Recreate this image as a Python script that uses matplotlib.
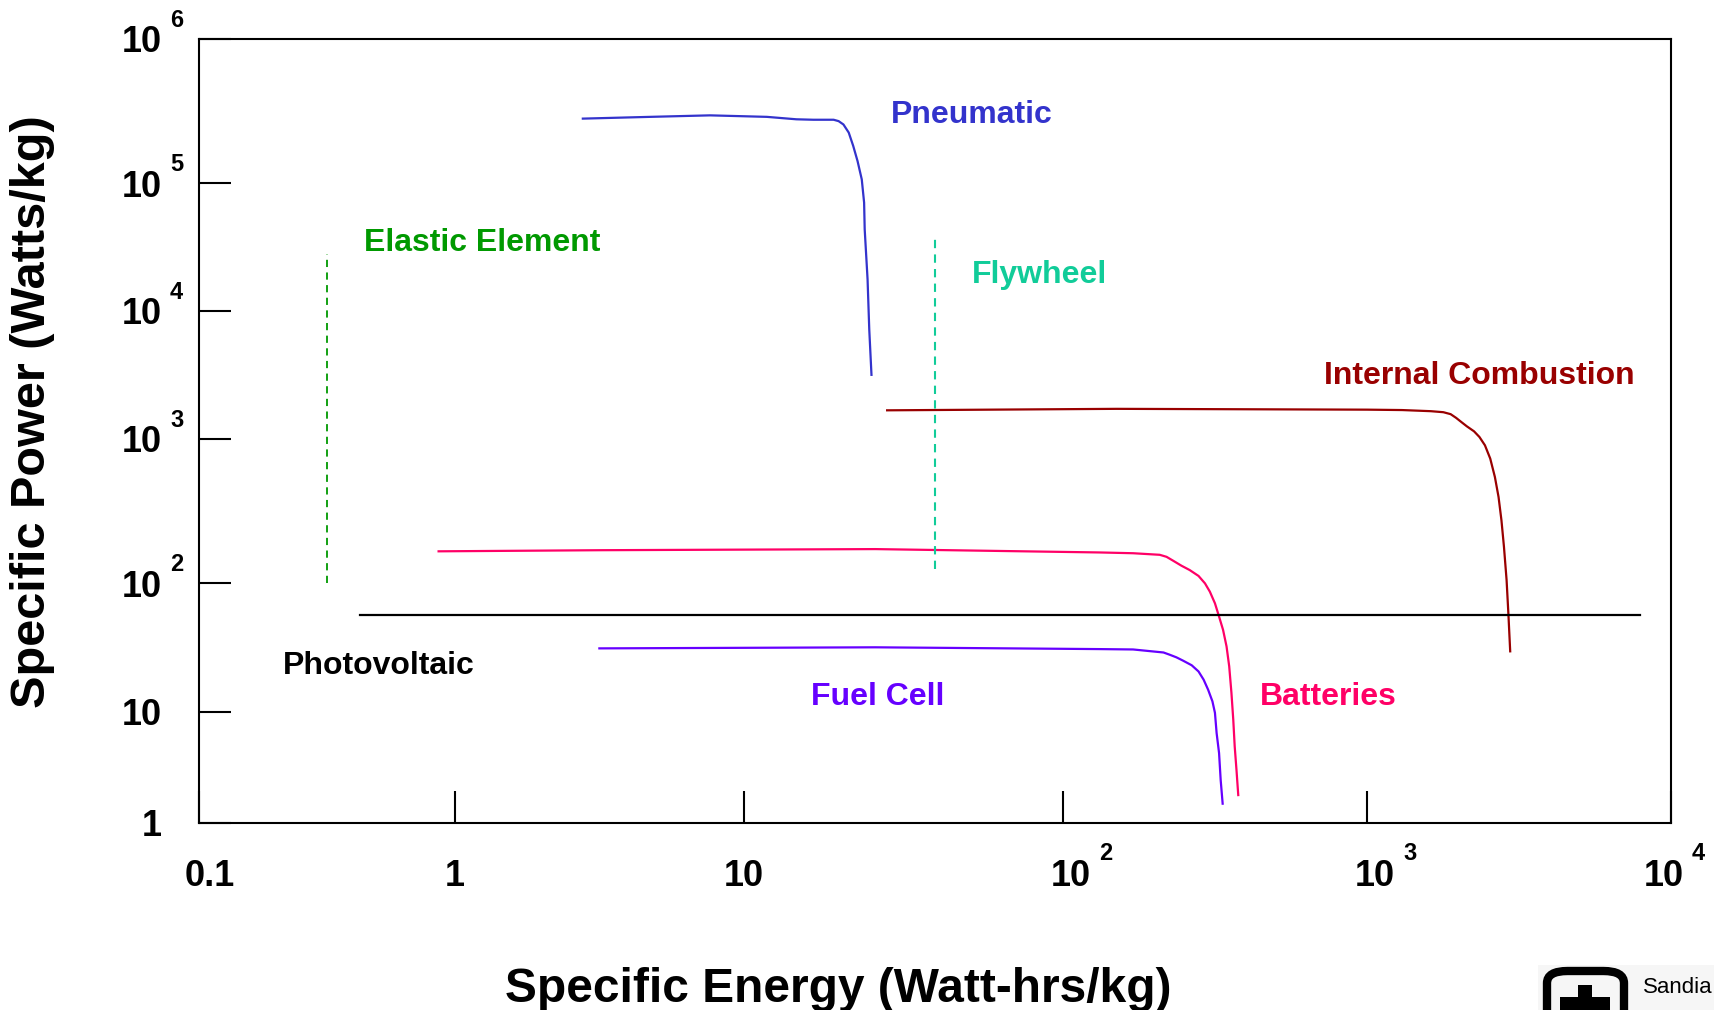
import numpy as np
import matplotlib
matplotlib.use('Agg')
import matplotlib.pyplot as plt
from matplotlib.ticker import NullLocator
from matplotlib.patches import FancyBboxPatch, Rectangle

plt.rcParams['font.family'] = ['Liberation Sans', 'DejaVu Sans']

# ---- data (Specific Energy in Wh/kg, Specific Power in W/kg) ----
pneumatic_energy = [2.77, 4.74, 7.63, 11.8, 14.6, 16.5, 19.1, 19.8, 20.5, 21.3, 22.0,
                    22.7, 23.4, 23.8, 23.9, 24.4, 24.7, 25.1]
pneumatic_power = [2.80e5, 2.88e5, 2.95e5, 2.88e5, 2.77e5, 2.75e5, 2.75e5, 2.69e5, 2.55e5,
                   2.24e5, 1.81e5, 1.42e5, 1.06e5, 7.03e4, 4.35e4, 1.77e4, 7.18e3, 3.17e3]

combustion_energy = [28.1, 150, 1000, 1303, 1622, 1783, 1884, 1963, 2046, 2130, 2249, 2343,
                     2443, 2543, 2634, 2708, 2768, 2821, 2878, 2917, 2958]
combustion_power = [1675, 1720, 1695, 1683, 1649, 1619, 1563, 1463, 1353, 1256, 1148, 1037,
                    904, 731, 545, 396, 273, 179, 105, 58.2, 29.4]

battery_energy = [0.863, 3.22, 25.8, 132, 170, 208, 219, 230, 245, 261, 279, 293, 304, 316,
                  326, 336, 345, 352, 358, 363, 367, 372, 377]
battery_power = [166, 169, 172, 163, 161, 157, 152, 143, 132, 123, 112, 99.4, 85.7, 69.5,
                 54.8, 43.2, 32.1, 22.5, 14.0, 8.47, 4.86, 2.99, 1.78]

fuelcell_energy = [3.16, 25.8, 132, 170, 214, 224, 236, 248, 265, 279, 290, 300, 310, 316,
                   320, 326, 330, 335]
fuelcell_power = [31.0, 31.6, 30.6, 30.4, 28.8, 27.7, 26.4, 24.9, 22.9, 20.5, 17.7, 14.8,
                  12.0, 9.73, 6.41, 4.24, 2.43, 1.49]

photovoltaic_energy = [0.425, 7925]
photovoltaic_power = [56.8, 56.8]

elastic_energy = [0.316, 0.316]
elastic_power = [100, 2.8e4]

flywheel_energy = [39.7, 39.7]
flywheel_power = [125, 3.74e4]

# the original axes are "log-like" but decades are not evenly spaced
x_decades = [-1, 0, 1, 2, 3, 4]
x_decade_pos = [0, 0.1739, 0.3702, 0.5870, 0.7935, 1.0]
y_decades = [0, 1, 2, 3, 4, 5, 6]
y_decade_pos = [0, 0.1422, 0.3061, 0.4898, 0.6531, 0.8163, 1.0]

x_ticks = [0.1, 1, 10, 100, 1000, 10000]
x_tick_base = ['0.1', '1', '10', '10', '10', '10']
x_tick_exp = ['', '', '', '2', '3', '4']
x_tick_shift = [11, 0, 0, 8, 8, -7]   # pixels

y_ticks = [1, 10, 100, 1000, 1e4, 1e5, 1e6]
y_tick_base = ['1', '10', '10', '10', '10', '10', '10']
y_tick_exp = ['', '', '2', '3', '4', '5', '6']


def piecewise(t, xs, ys):
    t = np.asarray(t, dtype=float)
    out = np.interp(t, xs, ys)
    lo_slope = (ys[1] - ys[0]) / (xs[1] - xs[0])
    hi_slope = (ys[-1] - ys[-2]) / (xs[-1] - xs[-2])
    out = np.where(t < xs[0], ys[0] + (t - xs[0]) * lo_slope, out)
    out = np.where(t > xs[-1], ys[-1] + (t - xs[-1]) * hi_slope, out)
    return out


def make_funcs(decades, pos):
    def fwd(v):
        v = np.clip(np.asarray(v, dtype=float), 1e-30, None)
        return piecewise(np.log10(v), decades, pos)

    def inv(f):
        return 10 ** piecewise(f, pos, decades)
    return fwd, inv


W, H = 1715, 1010
fig = plt.figure(figsize=(W / 100, H / 100), dpi=100)
ax = fig.add_axes([199 / W, 1 - 823 / H, 1472 / W, 784 / H])

ax.set_xscale('function', functions=make_funcs(x_decades, x_decade_pos))
ax.set_yscale('function', functions=make_funcs(y_decades, y_decade_pos))
ax.set_xlim(0.1, 1e4)
ax.set_ylim(1, 1e6)

lw = 1.6
ax.plot(pneumatic_energy, pneumatic_power, color='#3333cc', lw=lw)
ax.plot(combustion_energy, combustion_power, color='#990000', lw=lw)
ax.plot(battery_energy, battery_power, color='#ff0066', lw=lw)
ax.plot(fuelcell_energy, fuelcell_power, color='#6600ff', lw=lw)
ax.plot(photovoltaic_energy, photovoltaic_power, color='black', lw=lw)
ax.plot(elastic_energy, elastic_power, color='#009900', lw=1.3, dashes=(4, 3))
ax.plot(flywheel_energy, flywheel_power, color='#11cc99', lw=1.5, dashes=(4, 3))

# series names
lab = dict(fontsize=23, fontweight='bold', ha='left', va='center_baseline', transform=ax.transAxes)
ax.text(0.470, 0.908, 'Pneumatic', color='#3333cc', **lab)
ax.text(0.112, 0.744, 'Elastic Element', color='#009900', **lab)
ax.text(0.525, 0.703, 'Flywheel', color='#11cc99', **lab)
ax.text(0.764, 0.574, 'Internal Combustion', color='#990000', **lab)
ax.text(0.057, 0.205, 'Photovoltaic', color='black', **lab)
ax.text(0.416, 0.165, 'Fuel Cell', color='#6600ff', **lab)
ax.text(0.721, 0.165, 'Batteries', color='#ff0066', **lab)

# axes frame and ticks
for s in ax.spines.values():
    s.set_linewidth(1.5)
ax.xaxis.set_minor_locator(NullLocator())
ax.yaxis.set_minor_locator(NullLocator())
ax.set_xticks(x_ticks)
ax.set_yticks(y_ticks)
ax.tick_params(direction='in', length=23, width=1.5, labelbottom=False, labelleft=False)

pt = 0.72  # points per pixel at 100 dpi
for t, b, e, dx in zip(x_ticks, x_tick_base, x_tick_exp, x_tick_shift):
    ax.annotate(b, xy=(t, 0), xycoords=('data', 'axes fraction'),
                xytext=(dx * pt, -49 * pt), textcoords='offset points',
                ha='center', va='center_baseline', fontsize=26, fontweight='bold')
    if e:
        ax.annotate(e, xy=(t, 0), xycoords=('data', 'axes fraction'),
                    xytext=((dx + 28) * pt, -28 * pt), textcoords='offset points',
                    ha='left', va='center_baseline', fontsize=17, fontweight='bold')

for t, b, e in zip(y_ticks, y_tick_base, y_tick_exp):
    ax.annotate(b, xy=(0, t), xycoords=('axes fraction', 'data'),
                xytext=(-37 * pt, 0), textcoords='offset points',
                ha='right', va='center_baseline', fontsize=26, fontweight='bold')
    if e:
        ax.annotate(e, xy=(0, t), xycoords=('axes fraction', 'data'),
                    xytext=(-29 * pt, 21 * pt), textcoords='offset points',
                    ha='left', va='center_baseline', fontsize=17, fontweight='bold')

fig.text(838 / W, 1 - 984 / H, 'Specific Energy (Watt-hrs/kg)', ha='center',
         va='center_baseline', fontsize=34.5, fontweight='bold')
fig.text(33 / W, 1 - 412 / H, 'Specific Power (Watts/kg)', ha='center',
         va='center', rotation=90, fontsize=35, fontweight='bold')

# Sandia logo in the corner (cut by the page edge)
fig.add_artist(Rectangle((1538 / W, 0), (W - 1538) / W, (1010 - 965) / H,
                         transform=fig.transFigure, facecolor='#f6f6f6', edgecolor='none'))
fig.add_artist(FancyBboxPatch((1547 / W, -40 / H), 77 / W, (1010 - 971 + 40) / H,
                              boxstyle='round,pad=0,rounding_size=0.012',
                              transform=fig.transFigure, facecolor='none',
                              edgecolor='black', lw=6))
fig.add_artist(Rectangle((1578 / W, 0), 14 / W, (1010 - 985) / H,
                         transform=fig.transFigure, facecolor='black', edgecolor='none'))
fig.add_artist(Rectangle((1560 / W, 0), 50 / W, (1010 - 997) / H,
                         transform=fig.transFigure, facecolor='black', edgecolor='none'))
fig.text(1643 / W, 1 - 985 / H, 'Sandia', ha='left', va='center_baseline', fontsize=16,
         family=['Liberation Sans Narrow', 'Liberation Sans'])

fig.savefig('out.png', dpi=100)
